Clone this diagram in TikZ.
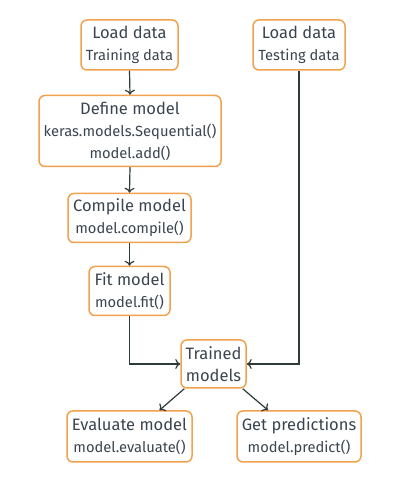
\documentclass[tikz,border=0pt]{standalone}
\usepackage{fontspec}
\setmainfont{Fira Sans}
\usetikzlibrary{arrows.meta}
\definecolor{boxorange}{HTML}{F2A14E}
\definecolor{txtgray}{HTML}{3B4550}
\definecolor{arrgray}{HTML}{2F3A3A}
\tikzset{
  box/.style={draw=boxorange, line width=1.5pt, rounded corners=6pt, fill=white,
    align=center, text=txtgray, inner sep=0pt, font=\fontsize{16.5}{22}\selectfont},
  arr/.style={draw=arrgray, line width=1.2pt, -{To[length=5pt,width=10pt]}}
}
\newcommand{\subl}[1]{{\fontsize{14.7}{22}\selectfont #1}}
\begin{document}
\begin{tikzpicture}[x=1pt,y=1pt]
\useasboundingbox[fill=white] (0,0) rectangle (404,488);
\node[box, minimum width=97pt, minimum height=50pt] (tr) at (129.5,443) {Load data\\\subl{Training data}};
\node[box, minimum width=92pt, minimum height=50pt] (te) at (299,443) {Load data\\\subl{Testing data}};
\node[box, minimum width=182pt, minimum height=71pt] (def) at (130,357) {Define model\\\subl{keras.models.Sequential()}\\\subl{model.add()}};
\node[box, minimum width=123pt, minimum height=49pt] (comp) at (129.5,270) {Compile model\\\subl{model.compile()}};
\node[box, minimum width=81pt, minimum height=49pt] (fit) at (129.5,197) {Fit model\\\subl{model.fit()}};
\node[box, minimum width=65pt, minimum height=48pt] (trained) at (213.5,124) {Trained\\models};
\node[box, minimum width=125pt, minimum height=51pt] (eval) at (129.5,51.5) {Evaluate model\\\subl{model.evaluate()}};
\node[box, minimum width=124pt, minimum height=51pt] (pred) at (299,51.5) {Get predictions\\\subl{model.predict()}};
\draw[arr] (tr.south) -- (def.north);
\draw[arr] (def.south) -- (comp.north);
\draw[arr] (comp.south) -- (fit.north);
\draw[arr] (fit.south) |- (trained.west);
\draw[arr] (te.south) |- (trained.east);
\draw[arr] ([xshift=4pt]trained.south west) -- ([xshift=30pt]eval.north);
\draw[arr] ([xshift=-4pt]trained.south east) -- ([xshift=-31pt]pred.north);
\end{tikzpicture}
\end{document}
